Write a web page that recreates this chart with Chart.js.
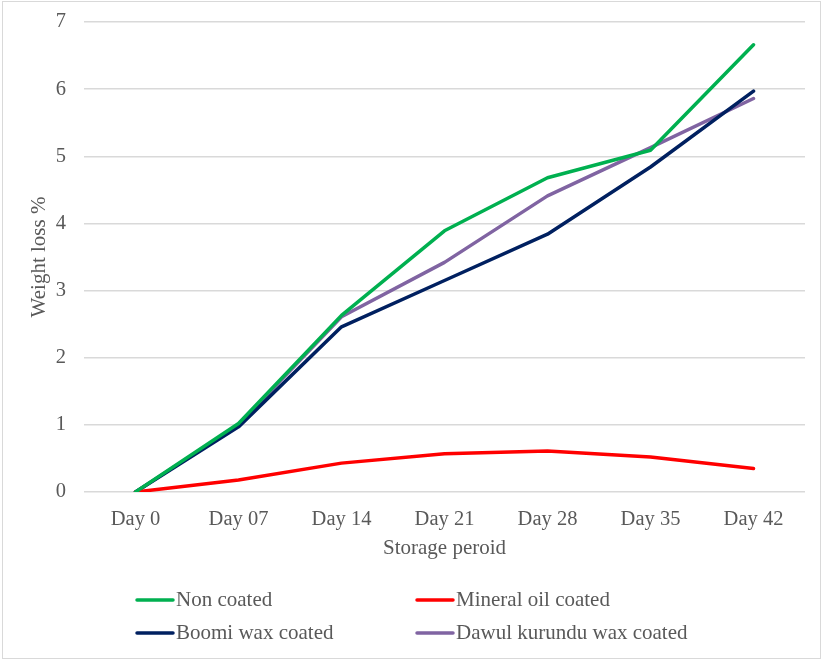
<!DOCTYPE html>
<html>
<head>
<meta charset="utf-8">
<script src="https://cdn.jsdelivr.net/npm/chart.js@4.4.1/dist/chart.umd.min.js"></script>
<style>
  html, body { margin: 0; padding: 0; background: #fff; }
  #wrap { width: 827px; height: 662px; }
</style>
</head>
<body>
<div id="wrap"><canvas id="lineChart" width="827" height="662"></canvas></div>
<script>
// Data
var days = ['Day 0', 'Day 07', 'Day 14', 'Day 21', 'Day 28', 'Day 35', 'Day 42'];
var nonCoated = [0, 1.02, 2.63, 3.89, 4.68, 5.09, 6.66];
var mineralOil = [0, 0.18, 0.43, 0.57, 0.61, 0.52, 0.35];
var boomiWax = [0, 0.97, 2.46, 3.15, 3.84, 4.84, 5.97];
var dawulWax = [0, 1.0, 2.61, 3.42, 4.41, 5.13, 5.86];
var yTicks = [0, 1, 2, 3, 4, 5, 6, 7];

var serif = "'Liberation Serif', 'Times New Roman', serif";
var grey = '#595959';

// Legend drawn in two fixed columns, like the original
var gridLegend = {
    id: 'gridLegend',
    afterDraw: function(chart) {
        var ctx = chart.ctx;
        var spots = [[137, 600], [417, 600], [137, 633], [417, 633]];
        ctx.save();
        chart.data.datasets.forEach(function(ds, i) {
            var x = spots[i][0], y = spots[i][1];
            ctx.strokeStyle = ds.borderColor;
            ctx.lineWidth = 3.5;
            ctx.lineCap = 'round';
            ctx.beginPath();
            ctx.moveTo(x, y);
            ctx.lineTo(x + 36, y);
            ctx.stroke();
            ctx.fillStyle = grey;
            ctx.font = '21px ' + serif;
            ctx.textBaseline = 'middle';
            ctx.textAlign = 'left';
            ctx.fillText(ds.label, x + 39, y);
        });
        // outer frame
        ctx.strokeStyle = '#d9d9d9';
        ctx.lineWidth = 1;
        ctx.strokeRect(2.5, 1.5, 818, 657);
        ctx.restore();
    }
};

var ctx = document.getElementById('lineChart').getContext('2d');

var myLineChart = new Chart(ctx, {
    type: 'line',
    data: {
        labels: days,
        datasets: [
            { label: 'Non coated', data: nonCoated, borderColor: '#00B050' },
            { label: 'Mineral oil coated', data: mineralOil, borderColor: '#FF0000' },
            { label: 'Boomi wax coated', data: boomiWax, borderColor: '#002060' },
            { label: 'Dawul kurundu wax coated', data: dawulWax, borderColor: '#8064A2' }
        ]
    },
    options: {
        responsive: false,
        animation: false,
        datasets: {
            line: { borderWidth: 3.5, pointRadius: 0, tension: 0, fill: false, borderCapStyle: 'round', borderJoinStyle: 'round' }
        },
        layout: { padding: { left: 0, right: 22, top: 22, bottom: 90 } },
        plugins: {
            legend: { display: false },
            tooltip: { enabled: false }
        },
        scales: {
            x: {
                offset: true,
                grid: { display: false },
                border: { display: false },
                ticks: { color: grey, font: { family: serif, size: 20.5 }, padding: 7, maxRotation: 0 },
                title: {
                    display: true,
                    text: 'Storage peroid',
                    color: grey,
                    font: { family: serif, size: 21 },
                    padding: { top: 0, bottom: 11 }
                },
                afterFit: function(scale) { scale.height = 80; }
            },
            y: {
                min: 0,
                max: 7,
                afterBuildTicks: function(scale) {
                    scale.ticks = yTicks.map(function(v) { return { value: v }; });
                },
                grid: { color: '#d9d9d9', lineWidth: 1.5, drawTicks: false },
                border: { display: false },
                ticks: { color: grey, font: { family: serif, size: 20.5 }, padding: 18 },
                title: {
                    display: true,
                    text: 'Weight loss %',
                    color: grey,
                    font: { family: serif, size: 21 },
                    padding: { top: 27, bottom: 0 }
                },
                afterFit: function(scale) {
                    scale.width = 84;
                    scale.paddingTop = 0;
                    scale.paddingBottom = 0;
                }
            }
        }
    },
    plugins: [gridLegend]
});
</script>
</body>
</html>
